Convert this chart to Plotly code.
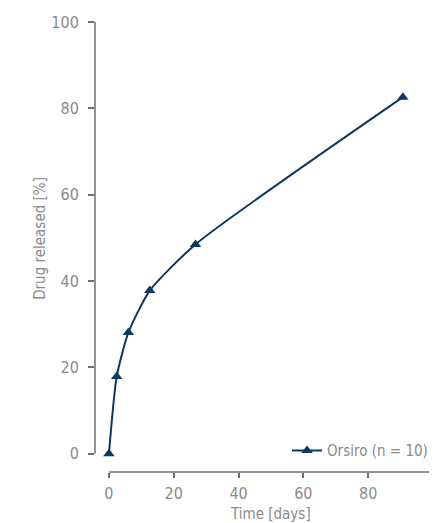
import plotly.graph_objects as go

days = [0, 2.4, 6, 12.6, 26.7, 90.7]
released = [0, 17.9, 28.1, 37.8, 48.5, 82.6]
series_name = "Orsiro (n = 10)"
x_ticks = [0, 20, 40, 60, 80, 100]
y_ticks = [0, 20, 40, 60, 80, 100]
x_title = "Time [days]"
y_title = "Drug released [%]"

navy = "#0b3766"
grey_txt = "#8a8a8a"
axis_col = "#6e6e6e"
font = "Liberation Sans Narrow, DejaVu Sans Condensed, Roboto"
fs_tick = 16
fs_text = 15

fig = go.Figure()
fig.add_trace(go.Scatter(
    x=days, y=released, name=series_name, mode="lines+markers",
    line=dict(color=navy, width=2, shape="spline", smoothing=0.6),
    marker=dict(symbol="triangle-up", size=10, color=navy),
    cliponaxis=False,
))

# detached axis lines
fig.add_shape(type="line", xref="paper", yref="y", x0=0, x1=0, y0=0, y1=100,
              line=dict(color=axis_col, width=1.5))
fig.add_shape(type="line", xref="x", yref="paper", x0=0, x1=100, y0=0, y1=0,
              line=dict(color=axis_col, width=1.5))

fig.add_annotation(text=y_title, xref="paper", yref="y", x=-0.163, y=50,
                   xanchor="center", yanchor="middle", textangle=-90,
                   showarrow=False, font=dict(size=fs_text, color=grey_txt))
fig.add_annotation(text=x_title, xref="x", yref="paper", x=50, y=-0.093,
                   xanchor="center", yanchor="middle",
                   showarrow=False, font=dict(size=fs_text, color=grey_txt))

fig.update_layout(
    width=429, height=515,
    margin=dict(l=87, r=4, t=14, b=51, autoexpand=False),
    paper_bgcolor="white", plot_bgcolor="white",
    font=dict(family=font, color=grey_txt, size=fs_tick),
    showlegend=True,
    legend=dict(x=1.0, y=0.047, xanchor="right", yanchor="middle",
                bgcolor="rgba(0,0,0,0)", font=dict(size=fs_text, color=grey_txt)),
    xaxis=dict(range=[-4.3, 100], tickvals=x_ticks, showgrid=False, zeroline=False,
               showline=False, ticks="outside", ticklen=5, tickwidth=1.5,
               tickcolor=axis_col, tickfont=dict(size=fs_tick, color=grey_txt),
               ticklabelstandoff=2),
    yaxis=dict(range=[-4.2, 100], tickvals=y_ticks, showgrid=False, zeroline=False,
               showline=False, ticks="outside", ticklen=6, tickwidth=1.5,
               tickcolor=axis_col, tickfont=dict(size=fs_tick, color=grey_txt),
               ticklabelstandoff=6),
)

fig.write_html("out.html")
